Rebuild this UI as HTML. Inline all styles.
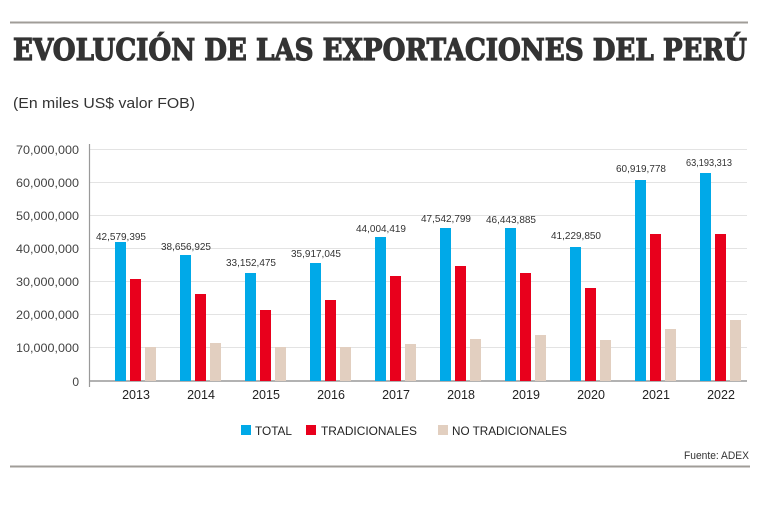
<!DOCTYPE html>
<html><head><meta charset="utf-8"><style>
html,body{margin:0;padding:0;background:#fff;}
svg{display:block;}
text{font-family:"Liberation Sans",sans-serif;}
</style></head><body>
<svg width="760" height="507" viewBox="0 0 760 507" xmlns="http://www.w3.org/2000/svg">
<rect width="760" height="507" fill="#fff"/>
<line x1="10" y1="22.5" x2="748" y2="22.5" stroke="#a09d98" stroke-width="2"/>
<text x="13" y="60" style="font-family:'DejaVu Serif','Liberation Serif',serif" font-weight="bold" font-size="30" fill="#333" stroke="#333" stroke-width="1.2" textLength="734" lengthAdjust="spacingAndGlyphs">EVOLUCIÓN DE LAS EXPORTACIONES DEL PERÚ</text>
<text x="13" y="108" font-size="15" fill="#333" textLength="182" lengthAdjust="spacingAndGlyphs">(En miles US$ valor FOB)</text>
<g stroke="#e3e3e3" stroke-width="1">
<line x1="89" y1="149.5" x2="747" y2="149.5"/>
<line x1="89" y1="182.5" x2="747" y2="182.5"/>
<line x1="89" y1="215.5" x2="747" y2="215.5"/>
<line x1="89" y1="248.5" x2="747" y2="248.5"/>
<line x1="89" y1="281.5" x2="747" y2="281.5"/>
<line x1="89" y1="314.5" x2="747" y2="314.5"/>
<line x1="89" y1="347.5" x2="747" y2="347.5"/>
</g>
<line x1="89" y1="381" x2="747" y2="381" stroke="#999" stroke-width="1.5"/>
<line x1="89.5" y1="144" x2="89.5" y2="387" stroke="#999" stroke-width="1.2"/>
<g font-size="12" fill="#444" text-anchor="end">
<text x="79" y="154" textLength="63" lengthAdjust="spacingAndGlyphs">70,000,000</text>
<text x="79" y="187" textLength="63" lengthAdjust="spacingAndGlyphs">60,000,000</text>
<text x="79" y="220" textLength="63" lengthAdjust="spacingAndGlyphs">50,000,000</text>
<text x="79" y="253" textLength="63" lengthAdjust="spacingAndGlyphs">40,000,000</text>
<text x="79" y="286" textLength="63" lengthAdjust="spacingAndGlyphs">30,000,000</text>
<text x="79" y="319" textLength="63" lengthAdjust="spacingAndGlyphs">20,000,000</text>
<text x="79" y="352" textLength="63" lengthAdjust="spacingAndGlyphs">10,000,000</text>
<text x="79" y="386">0</text>
</g>
<g fill="#00a9e8">
<rect x="115" y="242" width="11" height="139"/>
<rect x="180" y="255" width="11" height="126"/>
<rect x="245" y="273" width="11" height="108"/>
<rect x="310" y="263" width="11" height="118"/>
<rect x="375" y="237" width="11" height="144"/>
<rect x="440" y="228" width="11" height="153"/>
<rect x="505" y="228" width="11" height="153"/>
<rect x="570" y="247" width="11" height="134"/>
<rect x="635" y="180" width="11" height="201"/>
<rect x="700" y="173" width="11" height="208"/>
</g>
<g fill="#e8001c">
<rect x="130" y="279" width="11" height="102"/>
<rect x="195" y="294" width="11" height="87"/>
<rect x="260" y="310" width="11" height="71"/>
<rect x="325" y="300" width="11" height="81"/>
<rect x="390" y="276" width="11" height="105"/>
<rect x="455" y="266" width="11" height="115"/>
<rect x="520" y="273" width="11" height="108"/>
<rect x="585" y="288" width="11" height="93"/>
<rect x="650" y="234" width="11" height="147"/>
<rect x="715" y="234" width="11" height="147"/>
</g>
<g fill="#e2cfc0">
<rect x="145" y="347" width="11" height="34"/>
<rect x="210" y="343" width="11" height="38"/>
<rect x="275" y="347" width="11" height="34"/>
<rect x="340" y="347" width="11" height="34"/>
<rect x="405" y="344" width="11" height="37"/>
<rect x="470" y="339" width="11" height="42"/>
<rect x="535" y="335" width="11" height="46"/>
<rect x="600" y="340" width="11" height="41"/>
<rect x="665" y="329" width="11" height="52"/>
<rect x="730" y="320" width="11" height="61"/>
</g>
<g font-size="10.5" fill="#333" text-anchor="middle">
<text x="121" y="240" textLength="50" lengthAdjust="spacingAndGlyphs">42,579,395</text>
<text x="186" y="250" textLength="50" lengthAdjust="spacingAndGlyphs">38,656,925</text>
<text x="251" y="266" textLength="50" lengthAdjust="spacingAndGlyphs">33,152,475</text>
<text x="316" y="257" textLength="50" lengthAdjust="spacingAndGlyphs">35,917,045</text>
<text x="381" y="232" textLength="50" lengthAdjust="spacingAndGlyphs">44,004,419</text>
<text x="446" y="222" textLength="50" lengthAdjust="spacingAndGlyphs">47,542,799</text>
<text x="511" y="223" textLength="50" lengthAdjust="spacingAndGlyphs">46,443,885</text>
<text x="576" y="239" textLength="50" lengthAdjust="spacingAndGlyphs">41,229,850</text>
<text x="641" y="172" textLength="50" lengthAdjust="spacingAndGlyphs">60,919,778</text>
<text x="709" y="166" textLength="46" lengthAdjust="spacingAndGlyphs">63,193,313</text>
</g>
<g font-size="12.5" fill="#222" text-anchor="middle">
<text x="136" y="399">2013</text>
<text x="201" y="399">2014</text>
<text x="266" y="399">2015</text>
<text x="331" y="399">2016</text>
<text x="396" y="399">2017</text>
<text x="461" y="399">2018</text>
<text x="526" y="399">2019</text>
<text x="591" y="399">2020</text>
<text x="656" y="399">2021</text>
<text x="721" y="399">2022</text>
</g>
<rect x="241" y="425" width="10" height="10" fill="#00a9e8"/>
<text x="255" y="435" font-size="12" fill="#222" textLength="37" lengthAdjust="spacingAndGlyphs">TOTAL</text>
<rect x="306" y="425" width="10" height="10" fill="#e8001c"/>
<text x="321" y="435" font-size="12" fill="#222" textLength="96" lengthAdjust="spacingAndGlyphs">TRADICIONALES</text>
<rect x="438" y="425" width="10" height="10" fill="#e2cfc0"/>
<text x="452" y="435" font-size="12" fill="#222" textLength="115" lengthAdjust="spacingAndGlyphs">NO TRADICIONALES</text>
<text x="749" y="459" font-size="11" fill="#333" text-anchor="end" textLength="65" lengthAdjust="spacingAndGlyphs">Fuente: ADEX</text>
<line x1="10" y1="466.5" x2="750" y2="466.5" stroke="#a09d98" stroke-width="2"/>
</svg>
</body></html>
